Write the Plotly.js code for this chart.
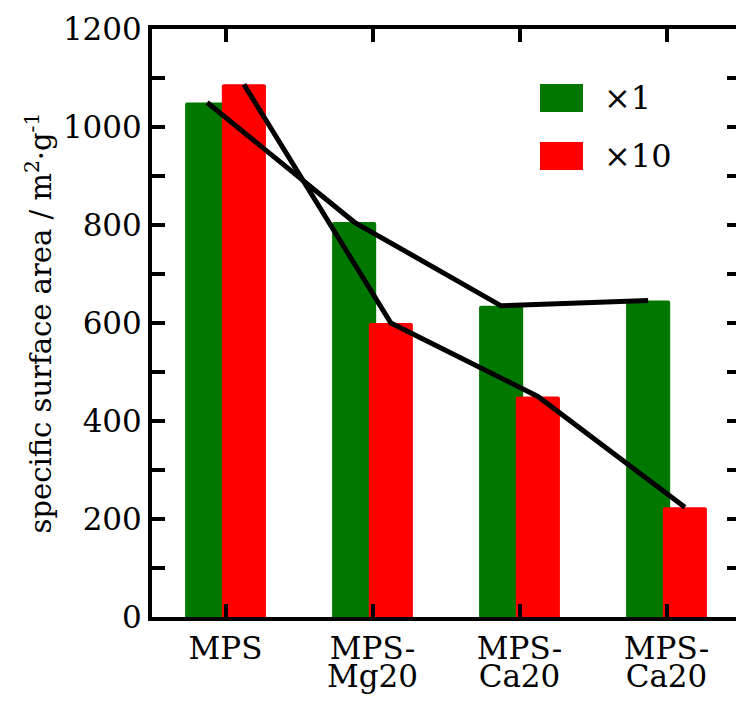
<!DOCTYPE html>
<html>
<head>
<meta charset="utf-8">
<script src="https://cdn.plot.ly/plotly-3.0.1.min.js"></script>
<style>
html,body{margin:0;padding:0;overflow:hidden;background:#fff;}
#chart{width:745px;height:706px;}
</style>
</head>
<body>
<div id="chart"></div>
<script>
// ---- data ----
const categoriesLine1 = ["MPS", "MPS-", "MPS-", "MPS-"];
const categoriesLine2 = ["", "Mg20", "Ca20", "Ca20"];
const seriesNames = ["×1", "×10"];
const valuesX1 = [1050, 806, 635, 646];
const valuesX10 = [1087, 600, 450, 224];
const yTickVals = [0, 200, 400, 600, 800, 1000, 1200];

const idx = categoriesLine1.map((_, i) => i);
const barWidth = 0.3;
const greenOffset = -0.275;
const redOffset = -0.025;
const greenCenter = idx.map(i => i + greenOffset + barWidth / 2);
const redCenter = idx.map(i => i + redOffset + barWidth / 2);

const font = "DejaVu Serif";

const traces = [
  {type: "bar", name: seriesNames[0], x: idx, y: valuesX1, width: barWidth, offset: greenOffset,
   marker: {color: "#007800", cornerradius: 2, line: {width: 0}}, showlegend: false},
  {type: "bar", name: seriesNames[1], x: idx, y: valuesX10, width: barWidth, offset: redOffset,
   marker: {color: "#ff0000", cornerradius: 2, line: {width: 0}}, showlegend: false},
  {type: "scatter", mode: "lines", x: greenCenter, y: valuesX1,
   line: {color: "#000", width: 5}, showlegend: false, hoverinfo: "skip"},
  {type: "scatter", mode: "lines", x: redCenter, y: valuesX10,
   line: {color: "#000", width: 5}, showlegend: false, hoverinfo: "skip"},
  {type: "scatter", mode: "markers", x: idx, y: valuesX1, xaxis: "x2", yaxis: "y",
   marker: {opacity: 0}, showlegend: false, hoverinfo: "skip"}
];

const W = 745, H = 706, L = 152, R = 5, T = 29, B = 89;
const pw = W - L - R, ph = H - T - B;
const px = v => (v - L) / pw;
const py = v => (H - B - v) / ph;

const tickFont = {family: font, size: 31, color: "#000"};

const layout = {
  width: W, height: H,
  margin: {l: L, r: R, t: T, b: B},
  paper_bgcolor: "#fff", plot_bgcolor: "#fff",
  barmode: "overlay",
  showlegend: false,
  font: {family: font, size: 31, color: "#000"},
  xaxis: {
    range: [-0.5, 3.5], tickvals: idx, ticktext: categoriesLine1,
    showline: true, linewidth: 4, linecolor: "#000", mirror: "allticks",
    ticks: "inside", ticklen: 13, tickwidth: 4, tickcolor: "#000",
    showgrid: false, zeroline: false, ticklabelstandoff: 1,
    tickfont: tickFont
  },
  xaxis2: {
    range: [-0.5, 3.5], tickvals: idx, ticktext: categoriesLine2,
    overlaying: "x", side: "bottom", anchor: "y",
    showline: false, ticks: "", showgrid: false, zeroline: false,
    ticklabelstandoff: 38,
    tickfont: tickFont
  },
  yaxis: {
    range: [0, 1200], tickvals: yTickVals,
    showline: true, linewidth: 4, linecolor: "#000", mirror: "allticks",
    ticks: "inside", ticklen: 13, tickwidth: 4, tickcolor: "#000",
    minor: {dtick: 100, ticks: "inside", ticklen: 8, tickwidth: 4, tickcolor: "#000", showgrid: false},
    showgrid: false, zeroline: false,
    tickfont: tickFont,
    title: {text: "specific surface area / m<sup>2</sup>·g<sup>-1</sup>", font: {family: font, size: 29, color: "#000"}, standoff: 4}
  },
  shapes: [
    {type: "rect", xref: "paper", yref: "paper", x0: px(540), x1: px(583), y0: py(112), y1: py(84),
     fillcolor: "#007800", line: {width: 0}},
    {type: "rect", xref: "paper", yref: "paper", x0: px(540), x1: px(583), y0: py(170), y1: py(142),
     fillcolor: "#ff0000", line: {width: 0}}
  ],
  annotations: [
    {xref: "paper", yref: "paper", x: px(602), y: py(98), xanchor: "left", yanchor: "middle",
     text: seriesNames[0], showarrow: false, font: {family: font, size: 32, color: "#000"}},
    {xref: "paper", yref: "paper", x: px(602), y: py(156), xanchor: "left", yanchor: "middle",
     text: seriesNames[1], showarrow: false, font: {family: font, size: 32, color: "#000"}}
  ]
};

Plotly.newPlot("chart", traces, layout, {staticPlot: true, displayModeBar: false});
</script>
</body>
</html>
